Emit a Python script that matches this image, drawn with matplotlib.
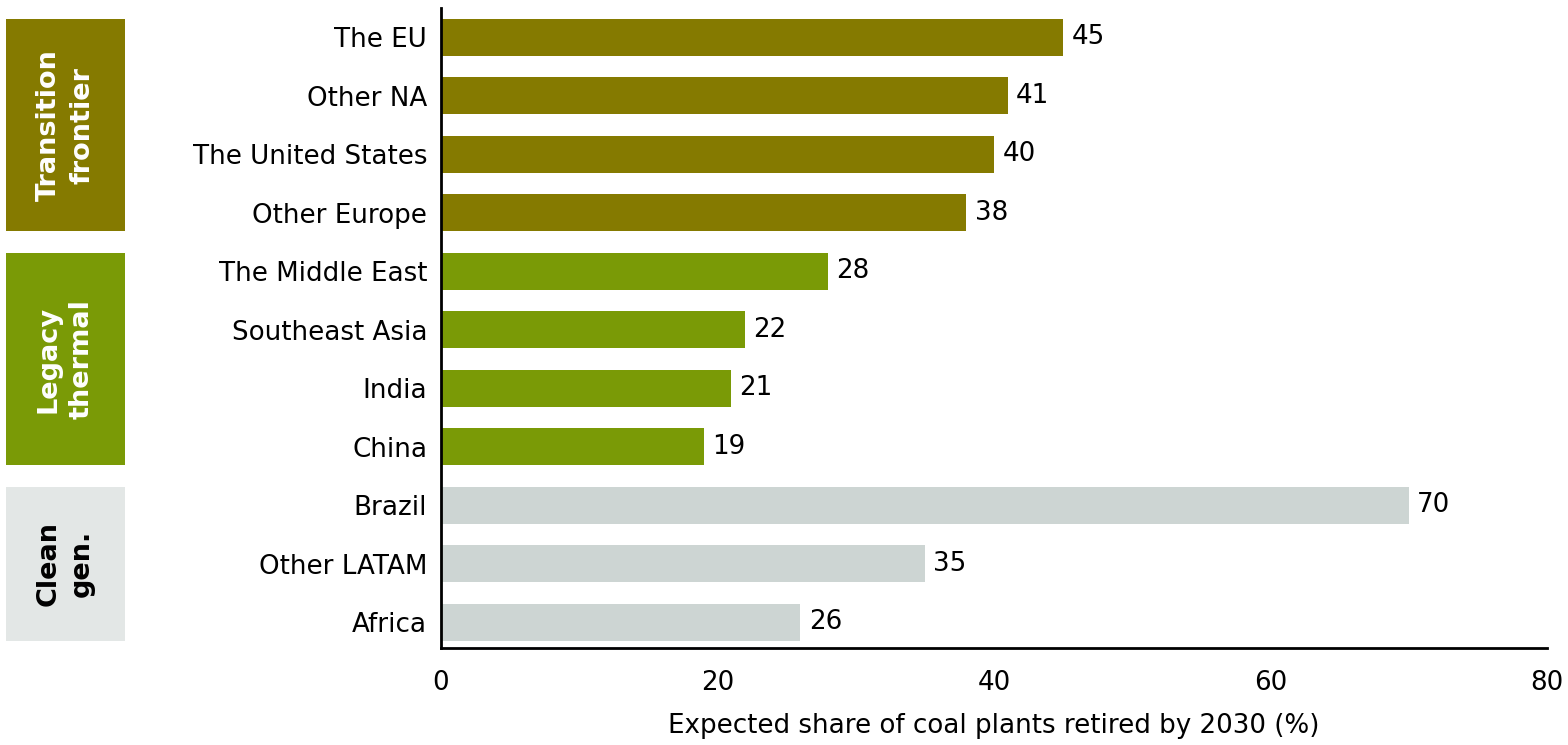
import matplotlib
matplotlib.use("Agg")
from matplotlib import pyplot as plt
from matplotlib.patches import Rectangle
import matplotlib.transforms as mtransforms

regions = ["The EU", "Other NA", "The United States", "Other Europe",
           "The Middle East", "Southeast Asia", "India", "China",
           "Brazil", "Other LATAM", "Africa"]
shares = [45, 41, 40, 38, 28, 22, 21, 19, 70, 35, 26]
groups = ["Transition\nfrontier", "Legacy\nthermal", "Clean\ngen."]
group_sizes = [4, 4, 3]

group_colors = ["#857a00", "#7a9a06", "#cdd5d3"]
box_colors = ["#857a00", "#7a9a06", "#e3e7e6"]
box_text_colors = ["white", "white", "black"]

plt.rcParams["font.family"] = ["DejaVu Sans"]

fig = plt.figure(figsize=(15.68, 7.45), dpi=100)
ax = fig.add_axes([441 / 1568, 1 - 648 / 745, (1547 - 441) / 1568, 640 / 745])

bar_colors = []
for c, n in zip(group_colors, group_sizes):
    bar_colors += [c] * n

ypos = list(range(len(regions)))
bar_h = 0.63
fs = 18.8
ax.barh(ypos, shares, height=bar_h, color=bar_colors, zorder=2)
for y, v in zip(ypos, shares):
    ax.text(v + 0.6, y, f"{v}", va="center", ha="left", fontsize=fs)

ax.set_ylim(len(regions) - 0.56, -0.5)
ax.set_xlim(0, 80)
ax.set_xticks([0, 20, 40, 60, 80])
ax.set_yticks(ypos)
ax.set_yticklabels(regions)
ax.tick_params(axis="both", length=0, labelsize=fs)
ax.tick_params(axis="y", pad=10)
ax.tick_params(axis="x", pad=16)
for s in ["top", "right"]:
    ax.spines[s].set_visible(False)
for s in ["left", "bottom"]:
    ax.spines[s].set_linewidth(2)
    ax.spines[s].set_color("black")
ax.set_xlabel("Expected share of coal plants retired by 2030 (%)", fontsize=fs, labelpad=12)

# group boxes: x in figure coords, y in data coords
trans = mtransforms.blended_transform_factory(fig.transFigure, ax.transData)
start = 0
for name, n, bc, tc in zip(groups, group_sizes, box_colors, box_text_colors):
    y0 = start - bar_h / 2
    y1 = start + n - 1 + bar_h / 2
    rect = Rectangle((6 / 1568, y0), (125 - 6) / 1568, y1 - y0, transform=trans,
                     facecolor=bc, edgecolor="none", clip_on=False)
    fig.add_artist(rect)
    fig.text(65.5 / 1568, (y0 + y1) / 2, name, transform=trans, rotation=90,
             ha="center", va="center", color=tc, fontsize=19.5, fontweight="bold",
             linespacing=1.35)
    start += n

fig.savefig("out.png", dpi=100)
